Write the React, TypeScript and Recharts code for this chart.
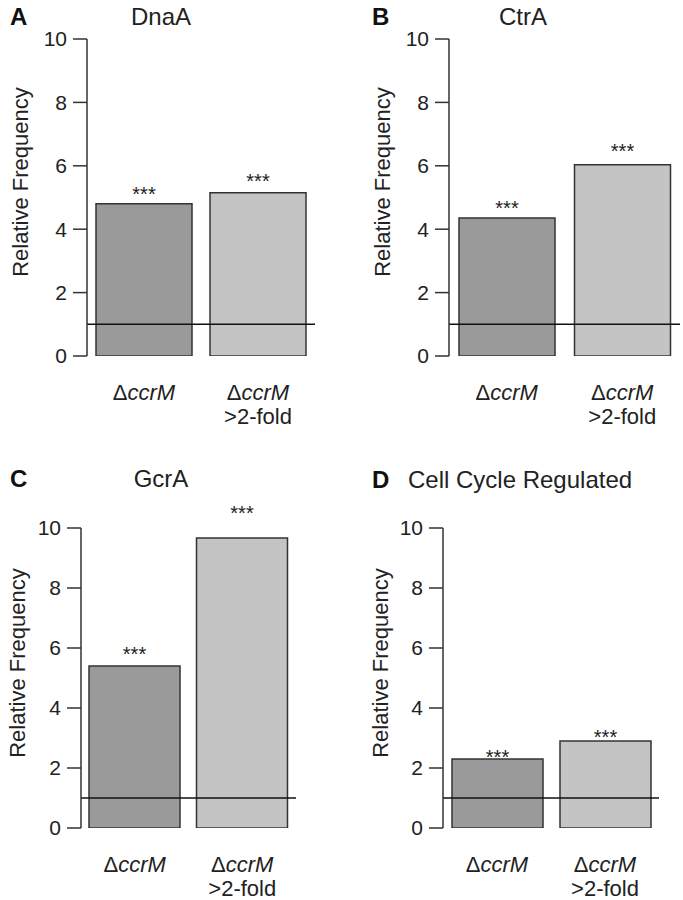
import React from 'react';
import { BarChart, Bar, XAxis, YAxis, ReferenceLine, Cell, LabelList } from 'recharts';

// categories shared by all four panels
const categories = ['ΔccrM', 'ΔccrM >2-fold'];
const yTicks = [0, 2, 4, 6, 8, 10];
const baselineValue = 1;

// relative frequency per panel
const dnaaValues = [4.8, 5.15];
const ctraValues = [4.35, 6.03];
const gcraValues = [5.4, 9.67];
const cellCycleValues = [2.3, 2.9];

// level (in axis units) where the *** marks sit
const dnaaStars = [5.24, 5.65];
const ctraStars = [4.79, 6.59];
const gcraStars = [5.93, 10.63];
const cellCycleStars = [2.5, 3.17];

const barColors = ['#9a9a9a', '#c4c4c4'];
const FONT = '"Liberation Sans", Arial, Helvetica, sans-serif';
const INK = '#222';
const AXIS = '#333';

const XTick = (props: any) => {
  const { x, y, payload } = props;
  const [first, second] = String(payload.value).split(' ');
  return (
    <g>
      <text x={x} y={y + 44} textAnchor="middle" fontSize={22} fill={INK} fontFamily={FONT}>
        <tspan>{first.slice(0, 1)}</tspan>
        <tspan fontStyle="italic">{first.slice(1)}</tspan>
      </text>
      {second && (
        <text x={x} y={y + 68} textAnchor="middle" fontSize={22} fill={INK} fontFamily={FONT}>
          {second}
        </text>
      )}
    </g>
  );
};

interface PanelProps {
  letter: string;
  title: string;
  values: number[];
  stars: number[];
  left: number;
  top: number;
  width: number;
  height: number;
  margin: { top: number; right: number; bottom: number; left: number };
  barSize: number;
  letterX: number;
  titleX: number;
  titleAnchor: 'start' | 'middle';
  titleY: number;
  yLabelX: number;
  yLabelY: number;
}

const Panel: React.FC<PanelProps> = (p) => {
  const data = categories.map((c, i) => ({ name: c, value: p.values[i], star: p.stars[i] }));

  const renderStars = (props: any) => {
    const { x, y, width, height, value, index } = props;
    const v = p.values[index];
    const pxPerUnit = height / v;
    const cy = y - (value - v) * pxPerUnit;
    return (
      <text x={x + width / 2} y={cy + 11} textAnchor="middle" fontSize={20} fill={INK} fontFamily={FONT}>
        ***
      </text>
    );
  };

  return (
    <div style={{ position: 'absolute', left: p.left, top: p.top, width: p.width, height: p.height }}>
      <BarChart width={p.width} height={p.height} data={data} margin={p.margin}>
        <XAxis
          dataKey="name"
          axisLine={false}
          tickLine={false}
          tickSize={0}
          tickMargin={0}
          height={60}
          interval={0}
          tick={<XTick />}
        />
        <YAxis
          domain={[0, 10]}
          ticks={yTicks}
          allowDataOverflow
          width={60}
          tickSize={14}
          tickMargin={6}
          axisLine={{ stroke: AXIS, strokeWidth: 1.5 }}
          tickLine={{ stroke: AXIS, strokeWidth: 1.5 }}
          tick={{ fill: INK, fontSize: 21, fontFamily: FONT }}
        />
        <Bar dataKey="value" barSize={p.barSize} stroke={AXIS} strokeWidth={1.5} isAnimationActive={false}>
          {data.map((d, i) => (
            <Cell key={d.name} fill={barColors[i]} />
          ))}
          <LabelList dataKey="star" content={renderStars} />
        </Bar>
        <ReferenceLine y={baselineValue} stroke="#111" strokeWidth={1.5} />
      </BarChart>
      <svg
        width={p.width}
        height={p.height}
        style={{ position: 'absolute', left: 0, top: 0, pointerEvents: 'none', overflow: 'visible' }}
      >
        <text x={p.letterX} y={p.titleY} fontSize={24} fontWeight="bold" fill="#111" fontFamily={FONT}>
          {p.letter}
        </text>
        <text x={p.titleX} y={p.titleY} textAnchor={p.titleAnchor} fontSize={24} fill={INK} fontFamily={FONT}>
          {p.title}
        </text>
        <text
          x={p.yLabelX}
          y={p.yLabelY}
          textAnchor="middle"
          dominantBaseline="central"
          fontSize={22}
          fill={INK}
          fontFamily={FONT}
          transform={`rotate(-90 ${p.yLabelX} ${p.yLabelY})`}
        >
          Relative Frequency
        </text>
      </svg>
    </div>
  );
};

export default function App() {
  return (
    <div style={{ position: 'absolute', left: 0, top: 0, width: 683, height: 900, background: '#fff' }}>
      <Panel
        letter="A"
        title="DnaA"
        values={dnaaValues}
        stars={dnaaStars}
        left={0}
        top={0}
        width={340}
        height={440}
        margin={{ top: 39, right: 25, bottom: 24, left: 27 }}
        barSize={96}
        letterX={10}
        titleX={161}
        titleAnchor="middle"
        titleY={25}
        yLabelX={20}
        yLabelY={182}
      />
      <Panel
        letter="B"
        title="CtrA"
        values={ctraValues}
        stars={ctraStars}
        left={340}
        top={0}
        width={343}
        height={440}
        margin={{ top: 39, right: 3, bottom: 24, left: 49 }}
        barSize={96}
        letterX={32}
        titleX={183}
        titleAnchor="middle"
        titleY={25}
        yLabelX={42}
        yLabelY={182}
      />
      <Panel
        letter="C"
        title="GcrA"
        values={gcraValues}
        stars={gcraStars}
        left={0}
        top={440}
        width={340}
        height={460}
        margin={{ top: 88, right: 44, bottom: 12, left: 21 }}
        barSize={91}
        letterX={10}
        titleX={161}
        titleAnchor="middle"
        titleY={47}
        yLabelX={17}
        yLabelY={223}
      />
      <Panel
        letter="D"
        title="Cell Cycle Regulated"
        values={cellCycleValues}
        stars={cellCycleStars}
        left={340}
        top={440}
        width={343}
        height={460}
        margin={{ top: 88, right: 24, bottom: 12, left: 43 }}
        barSize={91}
        letterX={32}
        titleX={68}
        titleAnchor="start"
        titleY={48}
        yLabelX={40}
        yLabelY={223}
      />
    </div>
  );
}
